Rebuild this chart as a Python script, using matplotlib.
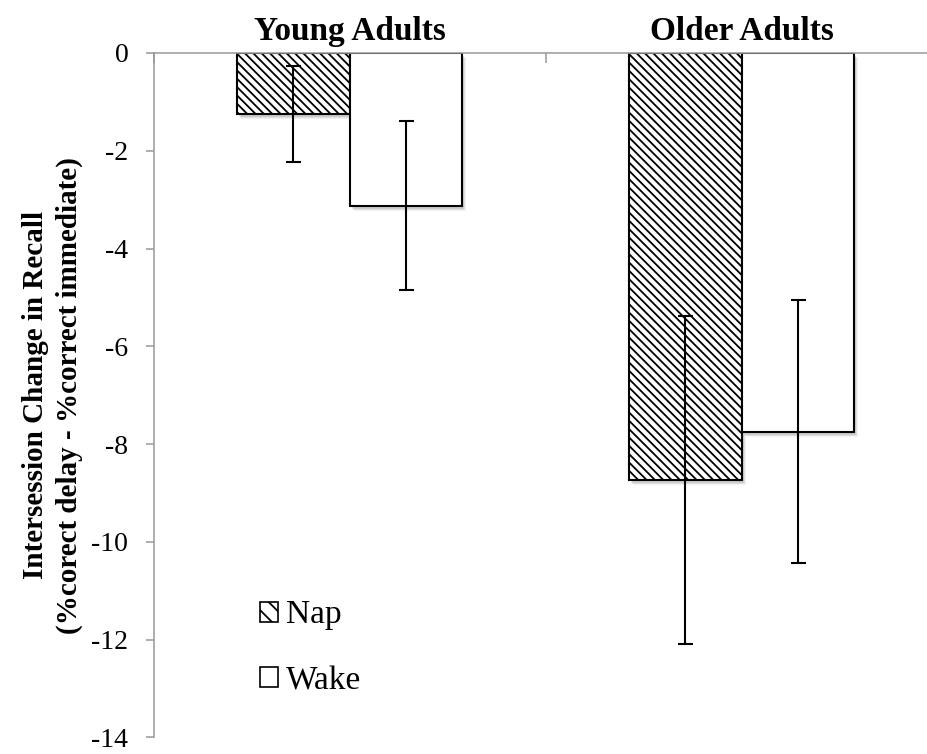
import matplotlib
matplotlib.use("Agg")
import matplotlib.pyplot as plt
import matplotlib.transforms as mtransforms
from matplotlib.patches import Patch
import numpy as np

groups = ["Young Adults", "Older Adults"]
nap = [-1.25, -8.74]
wake = [-3.12, -7.745]
nap_err = [0.99, 3.35]
wake_err = [1.735, 2.695]
yticks = [0, -2, -4, -6, -8, -10, -12, -14]

plt.rcParams['font.family'] = ['Liberation Serif', 'DejaVu Serif']
plt.rcParams['hatch.linewidth'] = 1.3

fig = plt.figure(figsize=(9.28, 7.54), dpi=100)
ax = fig.add_axes([153.7/928, 1-737.3/754, 784/928, (737.3-53)/754])

x = np.arange(len(groups))
w = 0.287
# soft drop shadows
for k, (dx, dy, a) in enumerate([(4, -5, 0.05), (3, -4, 0.07), (2, -3, 0.09)]):
    tr = mtransforms.offset_copy(ax.transData, fig=fig, x=dx, y=dy, units='dots')
    ax.bar(x - w/2, nap, w, color='black', alpha=a, linewidth=0, transform=tr, zorder=1)
    ax.bar(x + w/2, wake, w, color='black', alpha=a, linewidth=0, transform=tr, zorder=1)

ax.bar(x - w/2, nap, w, color='white', edgecolor='black', linewidth=1.5,
       hatch='\\\\\\\\', zorder=2)
ax.bar(x + w/2, wake, w, color='white', edgecolor='black', linewidth=1.5, zorder=2)
ax.errorbar(x - w/2, nap, yerr=nap_err, fmt='none', ecolor='black', elinewidth=1.5,
            capsize=5.4, capthick=1.5, zorder=3)
ax.errorbar(x + w/2, wake, yerr=wake_err, fmt='none', ecolor='black', elinewidth=1.5,
            capsize=5.4, capthick=1.5, zorder=3)

ax.set_xlim(-0.5, 1.5)
ax.set_ylim(-14, 0)
ax.set_yticks(yticks)
ax.set_yticklabels([str(t) for t in yticks], fontsize=20)

ax.xaxis.tick_top()
ax.set_xticks(x)
ax.set_xticklabels(groups, fontsize=24, fontweight='bold')
ax.set_xticks([-0.5, 0.5, 1.5], minor=True)
ax.tick_params(axis='x', which='major', length=0, pad=4)
ax.tick_params(axis='x', which='minor', length=7, direction='in', color='#999999', width=1.1)
ax.tick_params(axis='y', length=5.8, direction='out', color='#999999', width=1.1, pad=12.5)

for s in ['bottom', 'right']:
    ax.spines[s].set_visible(False)
for s in ['left', 'top']:
    ax.spines[s].set_color('#999999')
    ax.spines[s].set_linewidth(1.1)

ax.set_ylabel("Intersession Change in Recall\n(%corect delay - %correct immediate)",
              fontsize=21, fontweight='bold', linespacing=1.32)
ax.yaxis.set_label_coords(-0.0905, 0.5)

handles = [Patch(facecolor='white', edgecolor='black', hatch='\\\\', linewidth=1.2, label='Nap'),
           Patch(facecolor='white', edgecolor='black', linewidth=1.2, label='Wake')]
fig.legend(handles=handles, loc='upper left', bbox_to_anchor=(260/928, 1-600/754),
           frameon=False, fontsize=24, handlelength=0.53, handleheight=0.54,
           handletextpad=0.24, labelspacing=1.05, borderpad=0, borderaxespad=0)

fig.savefig("out.png", dpi=100)
